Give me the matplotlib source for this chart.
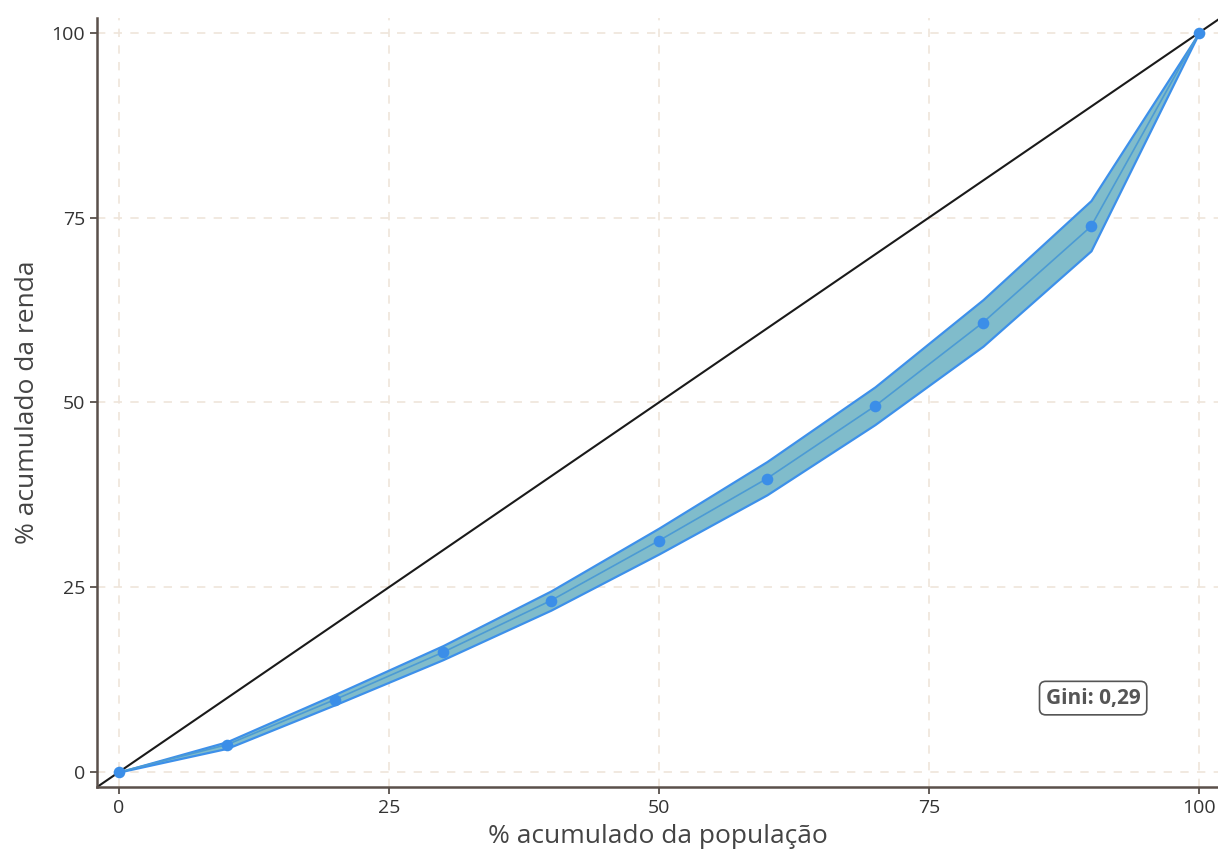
import numpy as np
import matplotlib
matplotlib.use('Agg')
import matplotlib.pyplot as plt

plt.rcParams['font.family'] = ['Open Sans', 'DejaVu Sans']

# curva de Lorenz
pop = [0, 10, 20, 30, 40, 50, 60, 70, 80, 90, 100]
renda = [0, 3.7, 9.8, 16.2, 23.2, 31.3, 39.7, 49.5, 60.8, 73.8, 100]
renda_inf = [0, 3.2, 9.1, 15.2, 21.9, 29.5, 37.5, 47.0, 57.6, 70.5, 100]
renda_sup = [0, 4.1, 10.5, 17.1, 24.5, 33.0, 42.0, 52.1, 63.9, 77.3, 100]
gini = "Gini: 0,29"
ticks = [0, 25, 50, 75, 100]

fig = plt.figure(figsize=(12.18, 8.55), dpi=100)
ax = fig.add_axes([0.0796, 0.0795, 0.9204, 0.8995])

ax.set_xlim(-2.04, 101.76)
ax.set_ylim(-2.03, 102)

ax.grid(True, linestyle=(0, (5, 5)), color='#efe5da', linewidth=1.2)
ax.set_axisbelow(True)

ax.axline((0, 0), slope=1, color='#1a1a1a', linewidth=1.5, zorder=2)

ax.fill_between(pop, renda_inf, renda_sup, facecolor='#80bccb',
                edgecolor='#3d90ea', linewidth=1.6, zorder=3)
ax.plot(pop, renda, color='#4c9bd4', linewidth=1.2, zorder=4)
ax.scatter(pop, renda, s=70, color='#3b8ee8', zorder=5, linewidths=0)

ax.text(90.2, 10, gini, ha='center', va='center', fontsize=15,
        fontweight='bold', color='#555555',
        bbox=dict(boxstyle='round,pad=0.3', facecolor='white',
                  edgecolor='#555555', linewidth=1.2))

ax.set_xticks(ticks)
ax.set_yticks(ticks)
ax.tick_params(direction='out', length=5, width=1.2, colors='#4a423c',
               labelsize=14, labelcolor='#333333')
for s in ['top', 'right']:
    ax.spines[s].set_visible(False)
for s in ['left', 'bottom']:
    ax.spines[s].set_color('#5a504a')
    ax.spines[s].set_linewidth(1.8)

ax.set_xlabel('% acumulado da população', fontsize=19, color='#444444', labelpad=5)
ax.set_ylabel('% acumulado da renda', fontsize=19, color='#444444', labelpad=8)

fig.savefig('out.png', dpi=100)
